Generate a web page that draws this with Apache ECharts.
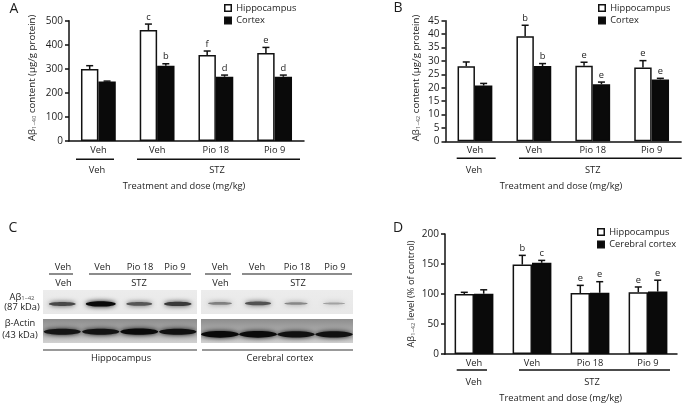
<!DOCTYPE html>
<html>
<head>
<meta charset="utf-8">
<style>html,body{margin:0;padding:0;background:#fff}#c{width:685px;height:406px;filter:blur(0.35px)}</style>
<script src="https://cdn.jsdelivr.net/npm/echarts@6/dist/echarts.min.js"></script>
</head>
<body>
<div id="c"></div>
<script>
const groups = ['Veh', 'Veh', 'Pio 18', 'Pio 9'];

const aHip = [299, 461, 357, 366];
const aHipErr = [313, 486, 374, 389];
const aCtx = [247, 313, 267, 267];
const aCtxErr = [249, 321, 274, 274];
const aHipMarks = ['', 'c', 'f', 'e'];
const aCtxMarks = ['', 'b', 'd', 'd'];

const bHip = [28, 39.2, 28.2, 27.5];
const bHipErr = [29.6, 43.3, 29.5, 30.1];
const bCtx = [20.8, 28.1, 21.3, 23.1];
const bCtxErr = [21.6, 29, 22.1, 23.5];
const bHipMarks = ['', 'b', 'e', 'e'];
const bCtxMarks = ['', 'b', 'e', 'e'];

const dHip = [100, 149, 101.7, 103];
const dHipErr = [102.8, 164.4, 114.4, 111.7];
const dCtx = [100.5, 152, 102, 104];
const dCtxErr = [107, 156, 120.5, 123];
const dHipMarks = ['', 'b', 'e', 'e'];
const dCtxMarks = ['', 'c', 'e', 'e'];

const blotHipAb = [0.68, 1, 0.6, 0.75];
const blotHipActin = [0.9, 0.92, 1, 0.95];
const blotCtxAb = [0.38, 0.62, 0.34, 0.2];
const blotCtxActin = [1, 1, 0.95, 0.95];

const FONT = '"Open Sans", "Noto Sans", sans-serif';
const INK = '#1c1c1c';
const SIZE = 9.3;

const chart = echarts.init(document.getElementById('c'), null, {renderer: 'canvas'});

const grids = [], xAxes = [], yAxes = [], series = [];

function panel(cfg) {
  const g = grids.length;
  grids.push({left: cfg.left, width: cfg.width, top: cfg.top, height: cfg.height, containLabel: false});
  xAxes.push({
    type: 'category', gridIndex: g, data: groups,
    axisTick: {show: false},
    axisLine: {lineStyle: {color: '#111', width: 1.5}},
    axisLabel: {color: INK, fontFamily: FONT, fontSize: SIZE, margin: 5, interval: 0}
  });
  yAxes.push({
    type: 'value', gridIndex: g, min: 0, max: cfg.max, interval: cfg.interval,
    splitLine: {show: false},
    axisLine: {show: true, lineStyle: {color: '#111', width: 1.5}},
    axisTick: {show: true, length: 4, lineStyle: {color: '#111', width: 1.5}},
    axisLabel: {color: INK, fontFamily: FONT, fontSize: 10, margin: 6},
    name: cfg.title, nameLocation: 'middle', nameGap: cfg.nameGap, nameRotate: 90,
    nameTextStyle: {
      color: INK, fontFamily: FONT, fontSize: cfg.titleSize,
      padding: [0, 0, 0, cfg.titleShift],
      rich: {
        n: {color: INK, fontFamily: FONT, fontSize: cfg.titleSize},
        s: {color: '#555', fontFamily: FONT, fontSize: 6, verticalAlign: 'bottom', padding: [3, 0, 0, 0]}
      }
    }
  });
  const bw = cfg.barWidth;
  series.push({
    name: 'Hippocampus', type: 'bar', xAxisIndex: g, yAxisIndex: g, data: cfg.hip,
    barWidth: bw, barGap: 0, itemStyle: {color: '#fff', borderColor: '#111', borderWidth: 1.5}
  });
  series.push({
    name: cfg.ctxName, type: 'bar', xAxisIndex: g, yAxisIndex: g, data: cfg.ctx,
    barWidth: bw, barGap: 0, itemStyle: {color: '#0a0a0a', borderColor: '#0a0a0a', borderWidth: 1.5}
  });
  const whisker = (name, tops, highs, marks, side) => ({
    name, type: 'custom', xAxisIndex: g, yAxisIndex: g, z: 5, clip: false,
    data: tops.map((t, i) => [i, t, highs[i]]),
    encode: {x: 0, y: [1, 2]},
    renderItem(params, api) {
      const i = api.value(0);
      const base = api.coord([i, api.value(1)]);
      const high = api.coord([i, api.value(2)]);
      const x = base[0] + side * bw / 2;
      const line = {stroke: '#111', lineWidth: 1.5};
      const children = [
        {type: 'line', shape: {x1: x, y1: base[1], x2: x, y2: high[1]}, style: line},
        {type: 'line', shape: {x1: x - 3.5, y1: high[1], x2: x + 3.5, y2: high[1]}, style: line}
      ];
      if (marks[i]) children.push({
        type: 'text',
        style: {text: marks[i], x, y: high[1] - 7, align: 'center', verticalAlign: 'middle',
                fill: INK, font: SIZE + 'px ' + FONT}
      });
      return {type: 'group', children};
    }
  });
  series.push(whisker('whiskers hip ' + g, cfg.hip, cfg.hipErr, cfg.hipMarks, -1));
  series.push(whisker('whiskers ctx ' + g, cfg.ctx, cfg.ctxErr, cfg.ctxMarks, 1));
}

panel({left: 69, width: 235, top: 20.7, height: 120.3, max: 500, interval: 100, nameGap: 32, barWidth: 17.4,
  titleSize: 9.7, titleShift: 6,
  title: '{n|Aβ}{s|1–40}{n| content (μg/g protein)}', ctxName: 'Cortex',
  hip: aHip, hipErr: aHipErr, ctx: aCtx, ctxErr: aCtxErr, hipMarks: aHipMarks, ctxMarks: aCtxMarks});
panel({left: 445.5, width: 235.6, top: 20.7, height: 120.6, max: 45, interval: 5, nameGap: 24, barWidth: 17.4,
  titleSize: 9.7, titleShift: 6,
  title: '{n|Aβ}{s|1–42}{n| content (μg/g protein)}', ctxName: 'Cortex',
  hip: bHip, hipErr: bHipErr, ctx: bCtx, ctxErr: bCtxErr, hipMarks: bHipMarks, ctxMarks: bCtxMarks});
panel({left: 445, width: 232, top: 234, height: 120, max: 200, interval: 50, nameGap: 29, barWidth: 19.4,
  titleSize: 9.3, titleShift: 0,
  title: '{n|Aβ}{s|1–42}{n| level (% of control)}', ctxName: 'Cerebral cortex',
  hip: dHip, hipErr: dHipErr, ctx: dCtx, ctxErr: dCtxErr, hipMarks: dHipMarks, ctxMarks: dCtxMarks});

function blot(cfg) {
  const g = grids.length;
  grids.push({
    show: true, borderWidth: 0, left: cfg.left, width: cfg.width, top: cfg.top, height: cfg.height,
    backgroundColor: new echarts.graphic.LinearGradient(0, 0, 0, 1, cfg.bg)
  });
  xAxes.push({type: 'category', gridIndex: g, data: groups, show: false});
  yAxes.push({type: 'value', gridIndex: g, min: 0, max: 1, show: false});
  series.push({
    name: 'blot ' + g, type: 'custom', xAxisIndex: g, yAxisIndex: g, clip: true,
    data: cfg.bands.map((v, i) => [i, cfg.level, v]),
    renderItem(params, api) {
      const v = api.value(2);
      const c = api.coord([api.value(0), api.value(1)]);
      const shade = Math.round(cfg.light - (cfg.light - 10) * v);
      const col = 'rgb(' + shade + ',' + shade + ',' + shade + ')';
      return {
        type: 'ellipse',
        shape: {cx: c[0], cy: c[1], rx: cfg.wide + 5 * v, ry: cfg.thin + cfg.thick * v},
        style: {fill: col, shadowBlur: 5, shadowColor: col}
      };
    }
  });
}
const abBg = [{offset: 0, color: '#ececec'}, {offset: 1, color: '#e8e8e8'}];
const actinBg = [{offset: 0, color: '#8d8d8d'}, {offset: 0.4, color: '#a6a6a6'}, {offset: 1, color: '#d2d2d2'}];
blot({left: 43, width: 154, top: 290, height: 24, level: 0.42, bands: blotHipAb, bg: abBg, light: 200, wide: 10, thin: 0.6, thick: 2});
blot({left: 43, width: 154, top: 319, height: 24, level: 0.47, bands: blotHipActin, bg: actinBg, light: 120, wide: 14, thin: 1.5, thick: 1.6});
blot({left: 201, width: 152, top: 290, height: 24, level: 0.44, bands: blotCtxAb, bg: abBg, light: 200, wide: 10, thin: 0.6, thick: 2});
blot({left: 201, width: 152, top: 319, height: 24, level: 0.36, bands: blotCtxActin, bg: actinBg, light: 120, wide: 14, thin: 1.5, thick: 1.8});

const txt = (text, x, y, extra) => ({
  type: 'text', x, y, silent: true,
  style: Object.assign({text, align: 'center', verticalAlign: 'middle', fill: INK,
    font: SIZE + 'px ' + FONT}, extra || {})
});
const rule = (x1, x2, y, color, w) => ({
  type: 'line', silent: true, shape: {x1, y1: y, x2, y2: y},
  style: {stroke: color || '#111', lineWidth: w || 1.5}
});
const subRich = {
  n: {fill: INK, font: SIZE + 'px ' + FONT},
  s: {fill: '#555', font: '6px ' + FONT, verticalAlign: 'bottom', padding: [3, 0, 0, 0]}
};

const graphics = [
  txt('A', 14, 9, {font: '14px ' + FONT}),
  rule(76, 114, 159.3), rule(137, 300, 159.3),
  txt('Veh', 97, 170), txt('STZ', 217, 170), txt('Treatment and dose (mg/kg)', 184, 186),

  txt('B', 398, 8, {font: '14px ' + FONT}),
  rule(456.7, 495.7, 158.3), rule(519, 681.7, 158.3),
  txt('Veh', 474, 170), txt('STZ', 592.7, 170), txt('Treatment and dose (mg/kg)', 561, 186),

  txt('D', 398, 228, {font: '14px ' + FONT}),
  rule(456.7, 487, 370), rule(519, 670, 370),
  txt('Veh', 473.7, 382), txt('STZ', 592, 382), txt('Treatment and dose (mg/kg)', 560.7, 398.7),

  txt('C', 13, 228, {font: '14px ' + FONT}),
  txt('Veh', 63, 267), txt('Veh', 102.5, 267), txt('Pio 18', 140, 267), txt('Pio 9', 175, 267),
  rule(49, 73, 274, '#666'), rule(89, 191, 274, '#666'),
  txt('Veh', 63.5, 283), txt('STZ', 139, 283),
  txt('Veh', 220, 267), txt('Veh', 257, 267), txt('Pio 18', 297, 267), txt('Pio 9', 335, 267),
  rule(205, 231, 274, '#666'), rule(242, 352, 274, '#666'),
  txt('Veh', 220.5, 283), txt('STZ', 298, 283),
  txt('{n|Aβ}{s|1–42}', 22, 297, {rich: subRich}), txt('(87 kDa)', 22, 307),
  txt('β-Actin', 20, 323), txt('(43 kDa)', 20, 335),
  rule(43, 197, 350, '#777'), rule(202, 353, 350, '#777'),
  txt('Hippocampus', 121, 358.5), txt('Cerebral cortex', 280, 358.5)
];

const legend = (left, top, names) => ({
  left, top, orient: 'vertical', data: names, selectedMode: false, itemGap: 2.5,
  itemWidth: 6.5, itemHeight: 6.5, padding: 0,
  icon: 'rect',
  textStyle: {color: INK, fontFamily: FONT, fontSize: SIZE, padding: [0, 0, 0, 0], lineHeight: 10},
  itemStyle: {borderColor: '#111', borderWidth: 1.5}
});

chart.setOption({
  animation: false,
  backgroundColor: '#fff',
  tooltip: {show: false},
  grid: grids, xAxis: xAxes, yAxis: yAxes, series,
  legend: [
    legend(224, 3, ['Hippocampus', 'Cortex']),
    legend(598, 3, ['Hippocampus', 'Cortex']),
    legend(597, 227, ['Hippocampus', 'Cerebral cortex'])
  ],
  graphic: graphics
});
</script>
</body>
</html>
